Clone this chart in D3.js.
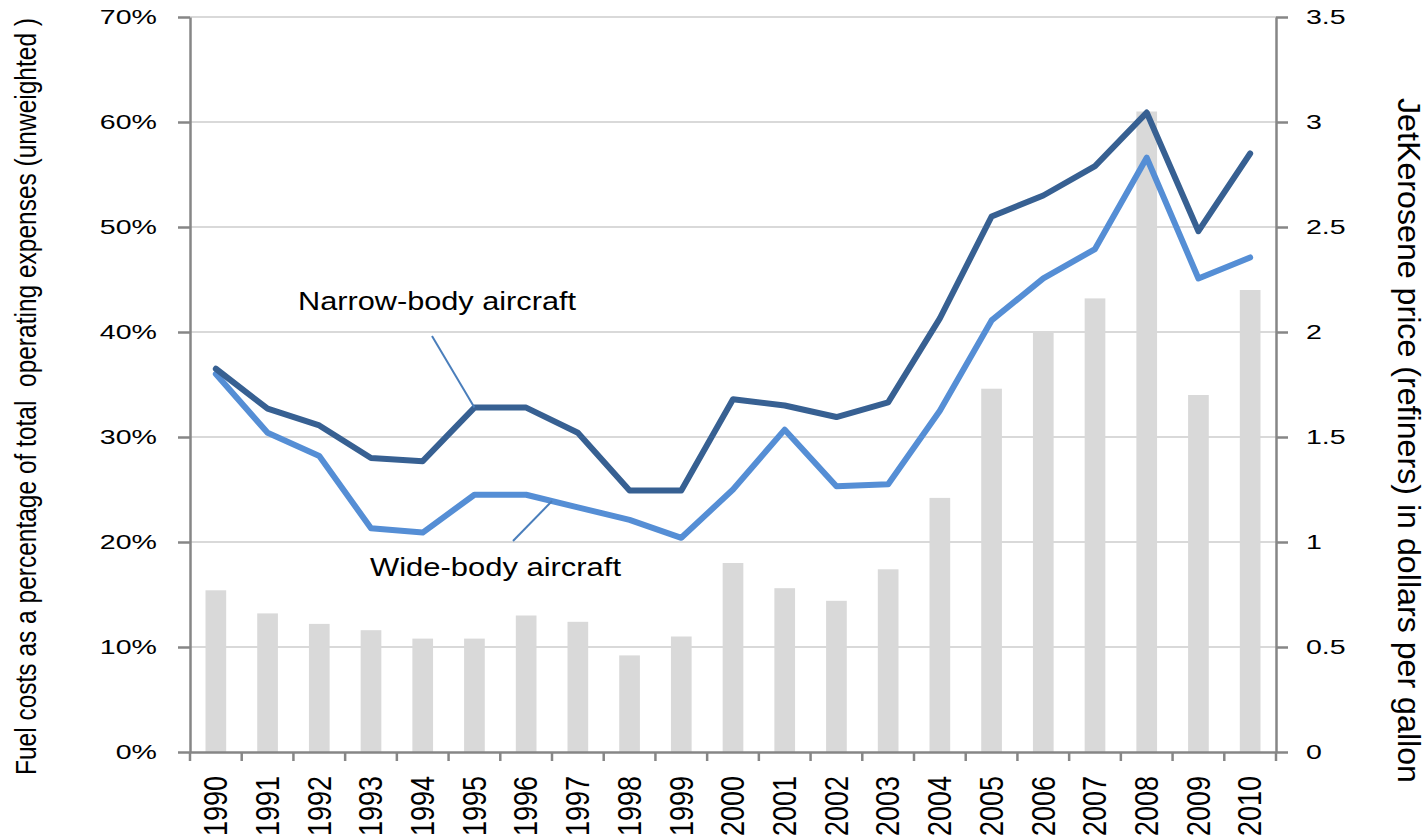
<!DOCTYPE html>
<html>
<head>
<meta charset="utf-8">
<title>Fuel costs and jet kerosene price</title>
<script src="https://cdn.jsdelivr.net/npm/d3@7"></script>
<style>
  body { margin: 0; background: #fff; }
  text { font-family: "Liberation Sans", Arial, sans-serif; fill: #000; }
</style>
</head>
<body>
<script>
// Data
var years = ["1990", "1991", "1992", "1993", "1994", "1995", "1996", "1997", "1998", "1999", "2000",
             "2001", "2002", "2003", "2004", "2005", "2006", "2007", "2008", "2009", "2010"];
// fuel costs as % of operating expenses
var narrowBody = [36.5, 32.7, 31.1, 28.0, 27.7, 32.8, 32.8, 30.4, 24.9, 24.9, 33.6,
                  33.0, 31.9, 33.3, 41.3, 51.0, 53.0, 55.8, 60.9, 49.6, 57.0];
var wideBody = [36.0, 30.4, 28.2, 21.3, 20.9, 24.5, 24.5, 23.3, 22.1, 20.4, 25.0,
                30.7, 25.3, 25.5, 32.5, 41.1, 45.1, 47.9, 56.6, 45.1, 47.1];
// jet kerosene price, dollars per gallon
var kerosene = [0.77, 0.66, 0.61, 0.58, 0.54, 0.54, 0.65, 0.62, 0.46, 0.55, 0.90,
                0.78, 0.72, 0.87, 1.21, 1.73, 2.00, 2.16, 3.05, 1.70, 2.20];
var leftTicks = [0, 10, 20, 30, 40, 50, 60, 70];
var rightTicks = [0, 0.5, 1, 1.5, 2, 2.5, 3, 3.5];

// Setup size
var width = 1426, height = 840;
var plotL = 190, plotR = 1276, plotT = 17, plotB = 752;
var axisColor = "#868686";

var svg = d3.select("body").append("svg")
    .attr("width", width)
    .attr("height", height);

var x = d3.scaleBand().domain(years).range([plotL, plotR]);
var y = d3.scaleLinear().domain([0, 70]).range([plotB, plotT]);
var yR = d3.scaleLinear().domain([0, 3.5]).range([plotB, plotT]);
var bw = x.bandwidth();
function cx(d) { return x(d) + bw / 2; }

// gridlines
svg.append("g").selectAll("line")
    .data(leftTicks.slice(1))
    .join("line")
    .attr("x1", plotL).attr("x2", plotR)
    .attr("y1", function(d) { return y(d); })
    .attr("y2", function(d) { return y(d); })
    .attr("stroke", "#d9d9d9")
    .attr("stroke-width", 2);

// bars (price, right axis)
svg.append("g").selectAll("rect")
    .data(kerosene)
    .join("rect")
    .attr("x", function(d, i) { return x(years[i]) + bw * 0.3; })
    .attr("width", bw * 0.4)
    .attr("y", function(d) { return yR(d); })
    .attr("height", function(d) { return yR(0) - yR(d); })
    .attr("fill", "#d9d9d9");

function styleAxis(g) {
  g.attr("font-size", null).attr("font-family", null);
  g.select(".domain").attr("stroke", axisColor).attr("stroke-width", 2.5);
  g.selectAll(".tick line").attr("stroke", axisColor).attr("stroke-width", 2.5);
  g.selectAll(".tick text").style("font-size", "21px").attr("fill", "#000");
}

// left axis
var gl = svg.append("g")
    .attr("transform", "translate(" + plotL + ",0)")
    .call(d3.axisLeft(y).tickValues(leftTicks).tickFormat(function(d) { return d + "%"; })
          .tickSize(12).tickSizeOuter(0));
styleAxis(gl);
gl.selectAll(".tick text").attr("x", 0).attr("transform", "translate(-33,0) scale(1.36,1)");

// right axis
var gr = svg.append("g")
    .attr("transform", "translate(" + plotR + ",0)")
    .call(d3.axisRight(yR).tickValues(rightTicks).tickFormat(d3.format(""))
          .tickSize(12).tickSizeOuter(0));
styleAxis(gr);
gr.selectAll(".tick text").attr("x", 0).attr("transform", "translate(30,0) scale(1.36,1)");

// bottom axis
var gb = svg.append("g")
    .attr("transform", "translate(0," + plotB + ")")
    .call(d3.axisBottom(x).tickSize(0).tickSizeOuter(0));
styleAxis(gb);
gb.selectAll(".tick text")
    .attr("y", 0).attr("dy", "0.35em")
    .attr("text-anchor", "end")
    .attr("transform", "translate(0,24) scale(1.2,1) rotate(-90)")
    .style("font-size", "27px");
// tick marks between the categories
gb.selectAll(".bound")
    .data(years.map(function(d) { return x(d); }).concat([x.range()[1]]))
    .join("line")
    .attr("class", "bound")
    .attr("x1", function(d) { return d; }).attr("x2", function(d) { return d; })
    .attr("y1", 0).attr("y2", 9)
    .attr("stroke", axisColor).attr("stroke-width", 2.5);

// lines
var line = d3.line()
    .x(function(d, i) { return cx(years[i]); })
    .y(function(d) { return y(d); });

svg.append("path").datum(wideBody)
    .attr("d", line)
    .attr("fill", "none")
    .attr("stroke", "#558ed5")
    .attr("stroke-width", 6)
    .attr("stroke-linecap", "round")
    .attr("stroke-linejoin", "round");

svg.append("path").datum(narrowBody)
    .attr("d", line)
    .attr("fill", "none")
    .attr("stroke", "#376092")
    .attr("stroke-width", 6)
    .attr("stroke-linecap", "round")
    .attr("stroke-linejoin", "round");

// annotations
svg.append("text")
    .attr("x", 298).attr("y", 310)
    .style("font-size", "25px")
    .attr("textLength", 278).attr("lengthAdjust", "spacingAndGlyphs")
    .text("Narrow-body aircraft");
svg.append("line")
    .attr("x1", 432).attr("y1", 336)
    .attr("x2", cx("1995")).attr("y2", y(narrowBody[5]))
    .attr("stroke", "#4a7ebb").attr("stroke-width", 2);

svg.append("text")
    .attr("x", 370).attr("y", 576)
    .style("font-size", "25px")
    .attr("textLength", 251).attr("lengthAdjust", "spacingAndGlyphs")
    .text("Wide-body aircraft");
svg.append("line")
    .attr("x1", 513).attr("y1", 541)
    .attr("x2", (cx("1996") + cx("1997")) / 2).attr("y2", y((wideBody[6] + wideBody[7]) / 2))
    .attr("stroke", "#4a7ebb").attr("stroke-width", 2);

// axis titles
svg.append("text")
    .attr("transform", "translate(36,775) scale(1.2,1) rotate(-90)")
    .style("font-size", "24px")
    .style("white-space", "pre")
    .attr("textLength", 757).attr("lengthAdjust", "spacingAndGlyphs")
    .text("Fuel costs as a percentage of total  operating expenses (unweighted )");

svg.append("text")
    .attr("transform", "translate(1398,98) rotate(90)")
    .style("font-size", "31px")
    .attr("textLength", 685).attr("lengthAdjust", "spacingAndGlyphs")
    .text("JetKerosene price (refiners) in dollars per gallon");
</script>
</body>
</html>
